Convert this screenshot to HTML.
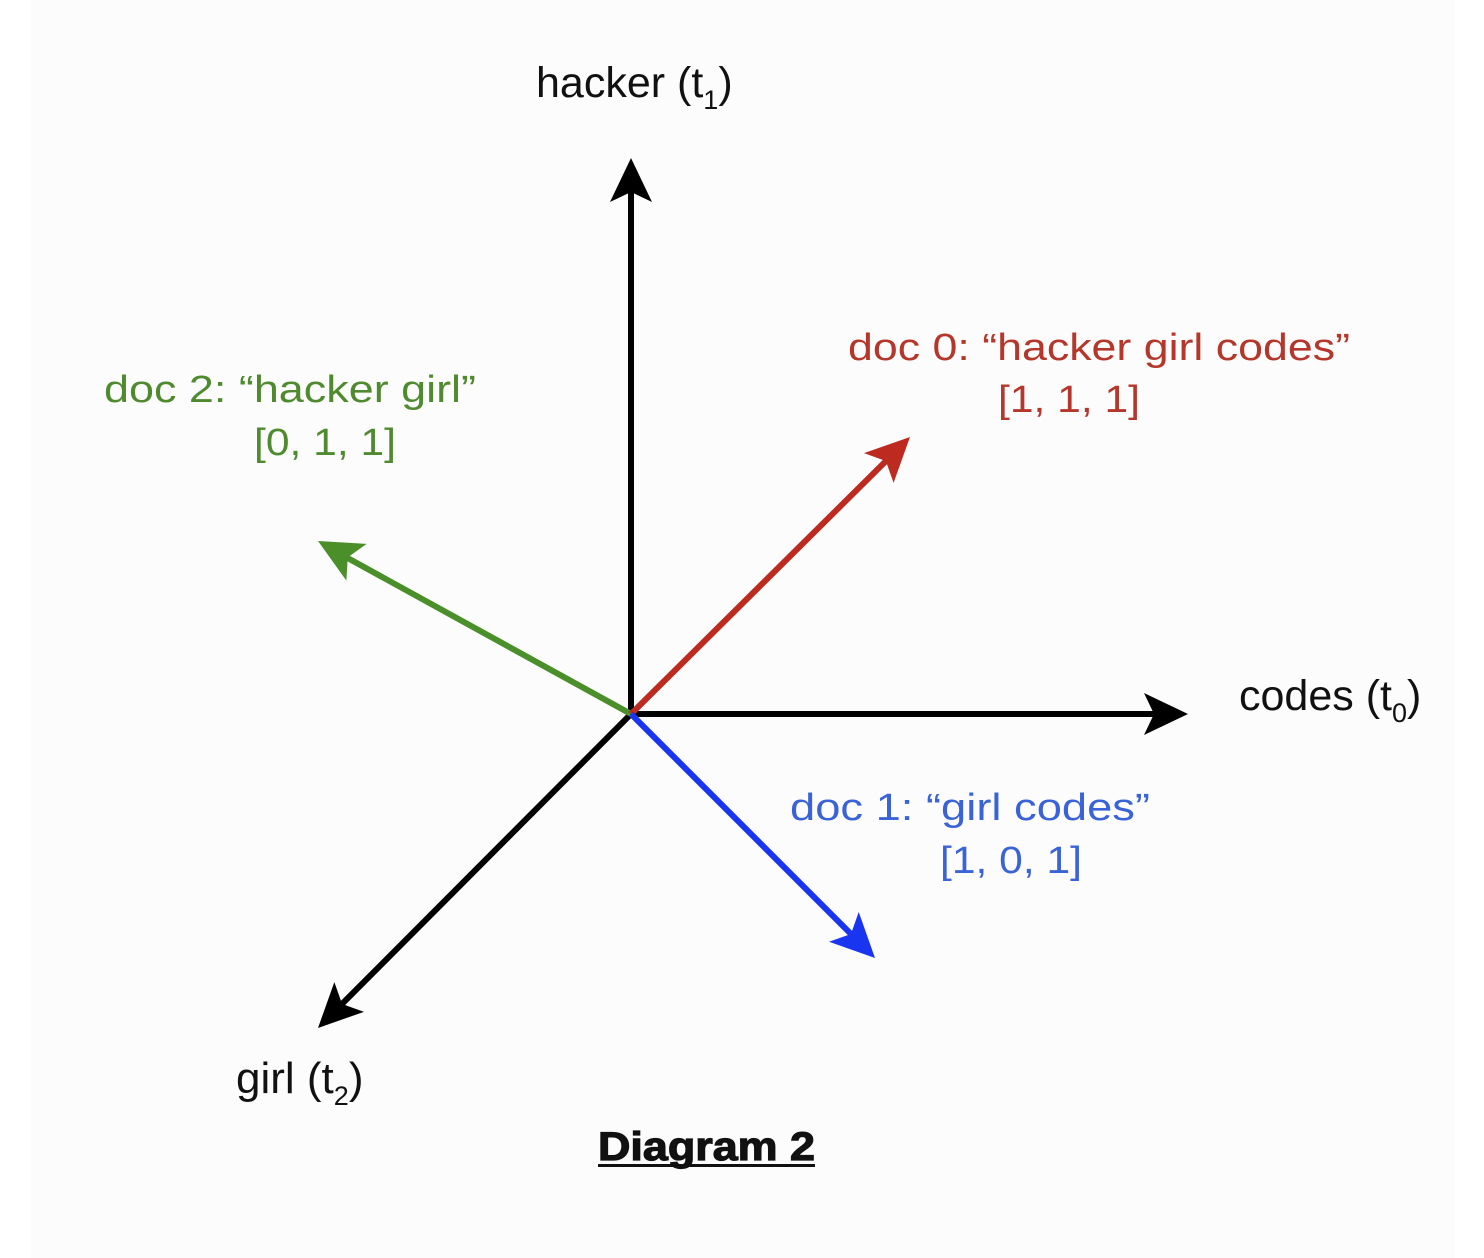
<!DOCTYPE html>
<html><head><meta charset="utf-8"><style>
html,body{margin:0;padding:0;background:#fff;}
svg{display:block;}
text{font-family:"Liberation Sans",sans-serif;}
</style></head><body>
<svg width="1484" height="1258" viewBox="0 0 1484 1258" xmlns="http://www.w3.org/2000/svg" font-size="38">
<rect x="31" y="0" width="1424" height="1258" fill="#fcfcfc"/>
<g stroke-width="6" stroke-linecap="butt">
<line x1="631" y1="714" x2="631" y2="190" stroke="#000"/>
<line x1="631" y1="714" x2="1155" y2="714" stroke="#000"/>
<line x1="631" y1="714" x2="339" y2="1007" stroke="#000"/>
<line x1="631" y1="714" x2="344" y2="556" stroke="#4a8f2a"/>
<line x1="631" y1="714" x2="889" y2="458" stroke="#bd2a1f"/>
<line x1="631" y1="714" x2="854" y2="937" stroke="#1a35f0"/>
</g>
<g transform="translate(631,158) rotate(-90)"><polygon points="0,0 -44,-21 -34,0 -44,21" fill="#000"/></g>
<g transform="translate(1188,714)"><polygon points="0,0 -44,-21 -34,0 -44,21" fill="#000"/></g>
<g transform="translate(318,1028) rotate(135.1)"><polygon points="0,0 -44,-21 -34,0 -44,21" fill="#000"/></g>
<g transform="translate(318,541) rotate(208.9)"><polygon points="0,0 -44,-21 -34,0 -44,21" fill="#4a8f2a"/></g>
<g transform="translate(910,437) rotate(-44.8)"><polygon points="0,0 -44,-21 -34,0 -44,21" fill="#bd2a1f"/></g>
<g transform="translate(875,958) rotate(45)"><polygon points="0,0 -44,-21 -34,0 -44,21" fill="#1a35f0"/></g>

<text x="536" y="97" fill="#111" style="font-size:43px">hacker (t<tspan style="font-size:27px" dy="12">1</tspan><tspan dy="-12">)</tspan></text>
<text x="1239" y="710" fill="#111" style="font-size:43px">codes (t<tspan style="font-size:27px" dy="12">0</tspan><tspan dy="-12">)</tspan></text>
<text x="236" y="1093" fill="#111" style="font-size:44px">girl (t<tspan style="font-size:27px" dy="12">2</tspan><tspan dy="-12">)</tspan></text>

<text x="848" y="360" fill="#b5362a" textLength="502" lengthAdjust="spacingAndGlyphs">doc 0: “hacker girl codes”</text>
<text x="998" y="412" fill="#b5362a" textLength="142" lengthAdjust="spacingAndGlyphs">[1, 1, 1]</text>
<text x="104" y="402" fill="#4f8a2f" textLength="372" lengthAdjust="spacingAndGlyphs">doc 2: “hacker girl”</text>
<text x="254" y="455" fill="#4f8a2f" textLength="142" lengthAdjust="spacingAndGlyphs">[0, 1, 1]</text>
<text x="790" y="820" fill="#3b63d8" textLength="360" lengthAdjust="spacingAndGlyphs">doc 1: “girl codes”</text>
<text x="940" y="873" fill="#3b63d8" textLength="142" lengthAdjust="spacingAndGlyphs">[1, 0, 1]</text>

<text x="598" y="1160" fill="#111" font-weight="bold" style="font-size:40px" stroke="#111" stroke-width="1.2" textLength="217" lengthAdjust="spacingAndGlyphs">Diagram 2</text>
<rect x="598" y="1164" width="217" height="3" fill="#111"/>
</svg>
</body></html>
